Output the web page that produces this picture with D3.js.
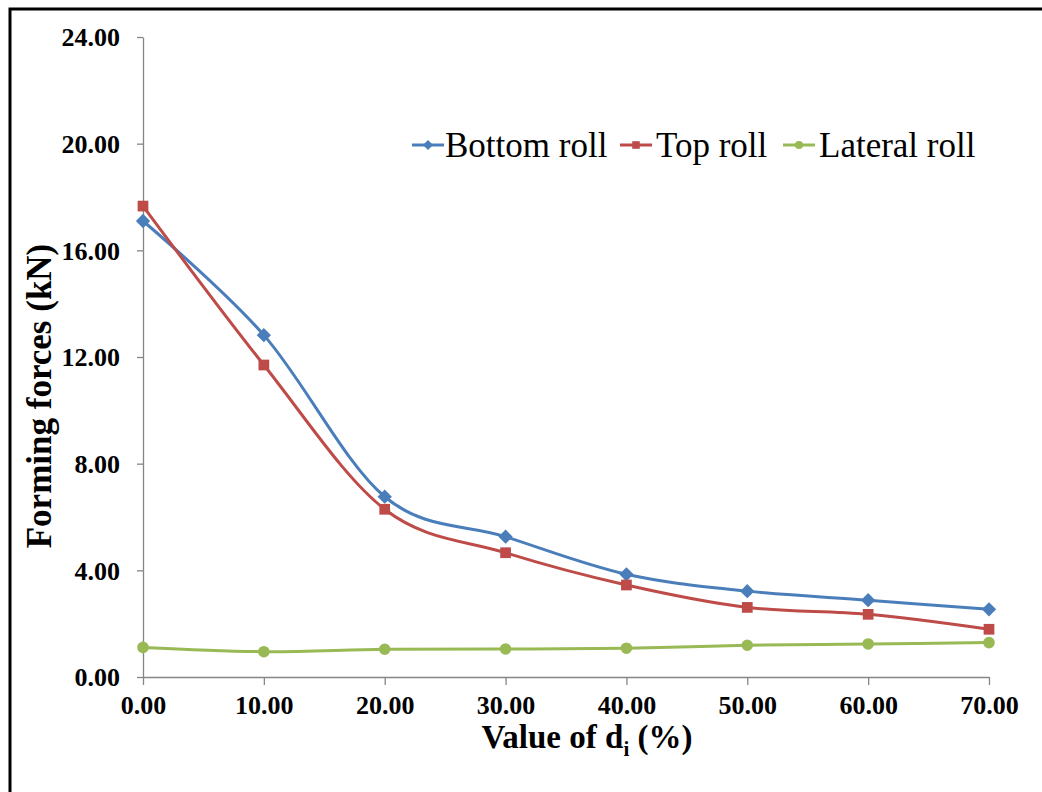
<!DOCTYPE html>
<html>
<head>
<meta charset="utf-8">
<script src="https://cdn.jsdelivr.net/npm/d3@7"></script>
<style>
  html, body { margin: 0; padding: 0; background: #fff; }
  svg { display: block; }
</style>
</head>
<body>
<svg id="chart" width="1042" height="792"></svg>
<script>
// ---- data ----
const xValues = [0, 10, 20, 30, 40, 50, 60, 70];
const bottomRoll = [17.10, 12.82, 6.76, 5.26, 3.85, 3.22, 2.88, 2.54];
const topRoll = [17.66, 11.70, 6.29, 4.66, 3.45, 2.61, 2.35, 1.79];
const lateralRoll = [1.11, 0.95, 1.04, 1.05, 1.08, 1.19, 1.24, 1.29];
const seriesNames = ["Bottom roll", "Top roll", "Lateral roll"];
const yTicks = [0, 4, 8, 12, 16, 20, 24];
const xTicks = [0, 10, 20, 30, 40, 50, 60, 70];

const colors = ["#4A7EBB", "#BE4B48", "#98B954"];
const markers = [d3.symbolDiamond2, d3.symbolSquare, d3.symbolCircle];
const markerSizes = [130, 115, 105];

const svg = d3.select("#chart");
const W = 1042, H = 792;

// outer frame
svg.append("rect").attr("x", 10).attr("y", 9).attr("width", W + 20).attr("height", H + 20)
  .attr("fill", "none").attr("stroke", "#000").attr("stroke-width", 3);

const x = d3.scaleLinear().domain([0, 70]).range([143, 989]);
const y = d3.scaleLinear().domain([0, 24]).range([677, 37]);

const fontSerif = "'Liberation Serif', 'Times New Roman', serif";
const axisColor = "#868686";

// y axis
const yAxis = svg.append("g").attr("transform", `translate(${x(0)},0)`)
  .call(d3.axisLeft(y).tickValues(yTicks).tickSize(6).tickSizeOuter(0).tickPadding(17)
    .tickFormat(d3.format(".2f")));
// x axis
const xAxis = svg.append("g").attr("transform", `translate(0,${y(0)})`)
  .call(d3.axisBottom(x).tickValues(xTicks).tickSize(8).tickSizeOuter(0).tickPadding(11)
    .tickFormat(d3.format(".2f")));

[yAxis, xAxis].forEach(g => {
  g.select(".domain").attr("stroke", axisColor).attr("stroke-width", 1.3);
  g.selectAll(".tick line").attr("stroke", axisColor).attr("stroke-width", 1.3);
  g.selectAll(".tick text").attr("fill", "#000").style("font-family", fontSerif)
    .style("font-weight", "bold").style("font-size", "26px");
});
yAxis.selectAll(".tick text").attr("dy", "0.34em");

// lines
const series = [bottomRoll, topRoll, lateralRoll];
const line = d3.line().x((d, i) => x(xValues[i])).y(d => y(d)).curve(d3.curveCardinal.tension(0));

series.forEach((s, k) => {
  svg.append("path").datum(s).attr("d", line).attr("fill", "none")
    .attr("stroke", colors[k]).attr("stroke-width", 3).attr("stroke-linejoin", "round");
});
series.forEach((s, k) => {
  svg.append("g").selectAll("path").data(s).join("path")
    .attr("d", d3.symbol().type(markers[k]).size(markerSizes[k]))
    .attr("transform", (d, i) => `translate(${x(xValues[i])},${y(d)})`)
    .attr("fill", colors[k]);
});

// legend
const legendItems = [
  { lx: 412, tx: 445 },
  { lx: 620, tx: 656 },
  { lx: 783, tx: 819 }
];
const legY = 145;
legendItems.forEach((it, k) => {
  const g = svg.append("g");
  g.append("line").attr("x1", it.lx).attr("x2", it.lx + 32).attr("y1", legY).attr("y2", legY)
    .attr("stroke", colors[k]).attr("stroke-width", 3);
  g.append("path").attr("d", d3.symbol().type(markers[k]).size(markerSizes[k] * 0.5))
    .attr("transform", `translate(${it.lx + 16},${legY})`).attr("fill", colors[k]);
  g.append("text").attr("x", it.tx).attr("y", legY + 12).text(seriesNames[k])
    .style("font-family", fontSerif).style("font-size", "35px").attr("fill", "#000");
});

// axis titles
svg.append("text").attr("transform", `translate(51,396) rotate(-90)`).attr("text-anchor", "middle")
  .style("font-family", fontSerif).style("font-weight", "bold").style("font-size", "35px")
  .text("Forming forces (kN)");

const xt = svg.append("text").attr("x", 587).attr("y", 748).attr("text-anchor", "middle")
  .style("font-family", fontSerif).style("font-weight", "bold").style("font-size", "33px");
xt.append("tspan").text("Value of d");
xt.append("tspan").attr("dy", 8).style("font-size", "21px").text("i");
xt.append("tspan").attr("dy", -8).text(" (%)");
</script>
</body>
</html>
